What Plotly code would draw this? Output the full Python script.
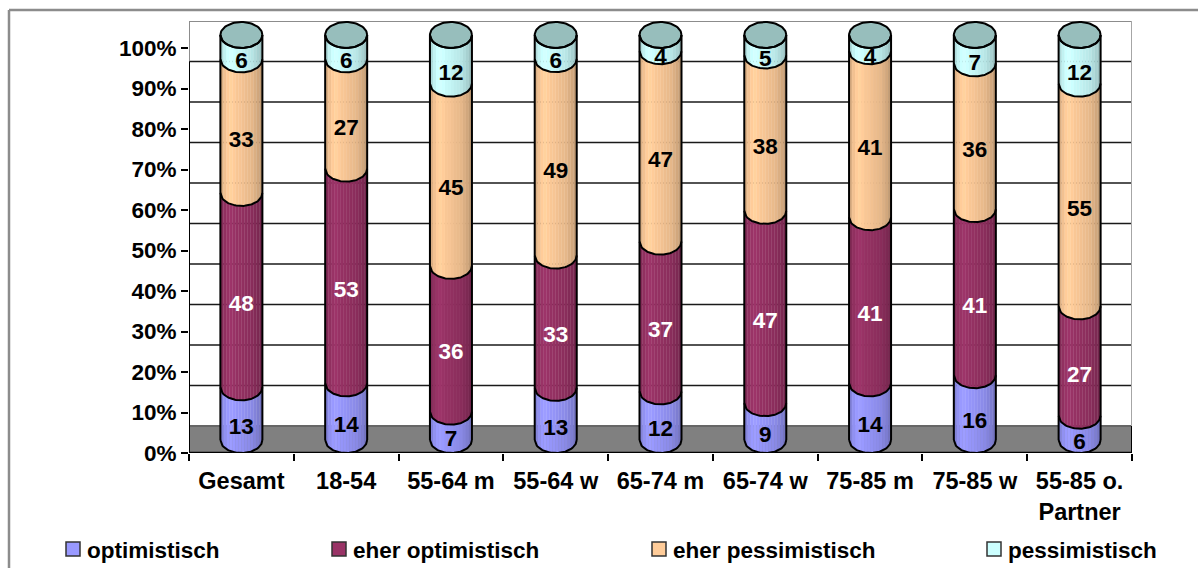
import numpy as np
import plotly.graph_objects as go

categories = ["Gesamt", "18-54", "55-64 m", "55-64 w", "65-74 m", "65-74 w", "75-85 m", "75-85 w", "55-85 o.<br>Partner"]
optimistisch = [13, 14, 7, 13, 12, 9, 14, 16, 6]
eher_optimistisch = [48, 53, 36, 33, 37, 47, 41, 41, 27]
eher_pessimistisch = [33, 27, 45, 49, 47, 38, 41, 36, 55]
pessimistisch = [6, 6, 12, 6, 4, 5, 4, 7, 12]
series_names = ["optimistisch", "eher optimistisch", "eher pessimistisch", "pessimistisch"]
series_colors = ["#9999FF", "#993366", "#FFCC99", "#CCFFFF"]
label_colors = ["black", "white", "black", "black"]
y_ticks = [0, 10, 20, 30, 40, 50, 60, 70, 80, 90, 100]
y_ticklabels = ["0%", "10%", "20%", "30%", "40%", "50%", "60%", "70%", "80%", "90%", "100%"]

FONT = "Liberation Sans"
L, R, T, B = 189, 1132, 21, 453
W, H = 1198, 568
YTOP = (B - T) / 405 * 100      # axis maximum including the 3D wall offset
DEPTH = YTOP - 100              # wall offset in value units
EY = 13 / 405 * 100             # ellipse semi-height in value units
HW = 21 / ((R - L) / 9)         # cylinder half-width in category units
LABEL_NUDGE = 0.5               # value labels sit slightly below the segment middle
shade = [0.86, 0.95, 1.0, 1.03, 1.0, 0.98, 0.97, 0.95, 0.93, 0.92, 0.9, 0.86, 0.82, 0.76]

def px(x):
    return (x - L) / (R - L)
def py(y):
    return (B - y) / (B - T)

def tint(hexcolor, f):
    rgb = [int(hexcolor[i:i + 2], 16) for i in (1, 3, 5)]
    return "rgb(" + ",".join(str(min(255, int(c * f))) for c in rgb) + ")"

def arc_y(v, dx):
    # lower edge of the ellipse whose front point sits at value v
    return v + EY - EY * np.sqrt(np.clip(1 - (dx / HW) ** 2, 0, 1))

data = np.array([optimistisch, eher_optimistisch, eher_pessimistisch, pessimistisch], dtype=float)
pct = data / data.sum(axis=0) * 100
cum = np.vstack([np.zeros(len(categories)), np.cumsum(pct, axis=0)])

fig = go.Figure()

# body of each cylinder, in vertical strips for the shading
n = len(shade)
edges = np.linspace(-HW, HW, n + 1)
for s, color in enumerate(series_colors):
    for k in range(n):
        xs, ys = [], []
        dx = np.linspace(edges[k], edges[k + 1], 4)
        for c in range(len(categories)):
            xs += list(c + dx) + list(c + dx[::-1]) + [None]
            ys += list(arc_y(cum[s, c], dx)) + list(arc_y(cum[s + 1, c], dx[::-1])) + [None]
        col = tint(color, shade[k])
        fig.add_trace(go.Scatter(x=xs, y=ys, mode="lines", fill="toself", fillcolor=col,
                                 line=dict(color=col, width=0.6), hoverinfo="skip",
                                 showlegend=False, cliponaxis=False))

# caps, outlines
t = np.linspace(0, 2 * np.pi, 73)
cap_x, cap_y, out_x, out_y = [], [], [], []
arc = np.linspace(-HW, HW, 41)
for c in range(len(categories)):
    cap_x += list(c + HW * np.cos(t)) + [None]
    cap_y += list(cum[-1, c] + EY + EY * np.sin(t)) + [None]
    for lvl in range(cum.shape[0]):
        out_x += list(c + arc) + [None]
        out_y += list(arc_y(cum[lvl, c], arc)) + [None]
    for side in (-HW, HW):
        out_x += [c + side, c + side, None]
        out_y += [cum[0, c] + EY, cum[-1, c] + EY, None]
fig.add_trace(go.Scatter(x=cap_x, y=cap_y, mode="lines", fill="toself", fillcolor="#97BEBC",
                         line=dict(color="black", width=2), hoverinfo="skip",
                         showlegend=False, cliponaxis=False))
fig.add_trace(go.Scatter(x=out_x, y=out_y, mode="lines", line=dict(color="black", width=2),
                         hoverinfo="skip", showlegend=False, cliponaxis=False))

# value labels
for s, color in enumerate(label_colors):
    fig.add_trace(go.Scatter(x=list(range(len(categories))), y=(cum[s] + cum[s + 1]) / 2 - LABEL_NUDGE,
                             mode="text", text=[str(int(v)) for v in data[s]],
                             textposition="middle center",
                             textfont=dict(family=FONT, size=22.5, color=color, weight="bold"),
                             name=series_names[s], showlegend=False, cliponaxis=False))

shapes = []
# outer frame (left and top only, the rest runs off the picture)
shapes.append(dict(type="line", xref="paper", yref="paper", x0=px(9), x1=px(W), y0=py(10), y1=py(10),
                   line=dict(color="#8C8C8C", width=2.5), layer="below"))
shapes.append(dict(type="line", xref="paper", yref="paper", x0=px(9), x1=px(9), y0=py(10), y1=py(H),
                   line=dict(color="#8C8C8C", width=2.5), layer="below"))
# floor
shapes.append(dict(type="rect", xref="x", yref="y", x0=-0.5, x1=8.5, y0=0, y1=DEPTH,
                   fillcolor="#808080", line=dict(width=0), layer="below"))
shapes.append(dict(type="line", xref="x", yref="y", x0=-0.5, x1=8.5, y0=DEPTH, y1=DEPTH,
                   line=dict(color="#666666", width=2), layer="below"))
# gridlines on the back wall
for v in y_ticks[1:-1]:
    shapes.append(dict(type="line", xref="x", yref="y", x0=-0.5, x1=8.5, y0=v + DEPTH, y1=v + DEPTH,
                       line=dict(color="#1A1A1A", width=1.6), layer="below"))
# wall frame
shapes.append(dict(type="line", xref="x", yref="y", x0=-0.5, x1=8.5, y0=YTOP, y1=YTOP,
                   line=dict(color="#8C8C8C", width=2), layer="below"))
shapes.append(dict(type="line", xref="x", yref="y", x0=8.5, x1=8.5, y0=DEPTH, y1=YTOP,
                   line=dict(color="#A6A6A6", width=2), layer="below"))
shapes.append(dict(type="line", xref="x", yref="y", x0=-0.5, x1=-0.5, y0=90 + DEPTH, y1=YTOP,
                   line=dict(color="#8C8C8C", width=2), layer="below"))
shapes.append(dict(type="line", xref="x", yref="y", x0=-0.5, x1=-0.5, y0=0, y1=90 + DEPTH,
                   line=dict(color="black", width=2), layer="below"))
shapes.append(dict(type="line", xref="x", yref="y", x0=8.5, x1=8.5, y0=0, y1=DEPTH,
                   line=dict(color="black", width=2), layer="below"))
shapes.append(dict(type="line", xref="x", yref="y", x0=-0.5, x1=8.5, y0=0, y1=0,
                   line=dict(color="black", width=2.5), layer="below"))

# legend
legend_square_x = [66, 332, 652, 987]
annotations = []
for name, color, sx in zip(series_names, series_colors, legend_square_x):
    shapes.append(dict(type="rect", xref="paper", yref="paper", x0=px(sx), x1=px(sx + 14),
                       y0=py(556), y1=py(542), fillcolor=color, line=dict(color="#333333", width=1.5)))
    annotations.append(dict(xref="paper", yref="paper", x=px(sx + 18.5), y=py(550), text=name,
                            showarrow=False, xanchor="left", yanchor="middle", align="left",
                            font=dict(family=FONT, size=22.5, color="black", weight="bold")))

fig.update_layout(
    width=W, height=H,
    autosize=False,
    margin=dict(l=L, r=W - R, t=T, b=H - B, pad=0),
    paper_bgcolor="white", plot_bgcolor="white",
    showlegend=False,
    shapes=shapes, annotations=annotations,
    xaxis=dict(range=[-0.5, 8.5], tickmode="array", tickvals=list(range(len(categories))),
               ticktext=categories, ticks="outside", ticklen=7, tickcolor="rgba(0,0,0,0)",
               tickfont=dict(family=FONT, size=23.5, color="black", weight="bold"),
               showgrid=False, zeroline=False, showline=False, tickangle=0,
               minor=dict(tickmode="array", tickvals=[i - 0.5 for i in range(len(categories) + 1)],
                          ticks="outside", ticklen=7, tickwidth=2, tickcolor="black", showgrid=False)),
    yaxis=dict(range=[0, YTOP], tickmode="array", tickvals=y_ticks, ticktext=y_ticklabels,
               ticks="outside", ticklen=7, tickwidth=2, tickcolor="black",
               tickfont=dict(family=FONT, size=22.5, color="black", weight="bold"),
               showgrid=False, zeroline=False, showline=False),
)
fig.write_html("out.html", config={"displayModeBar": False},
               post_script="document.body.style.margin='0';document.body.style.overflow='hidden';")
